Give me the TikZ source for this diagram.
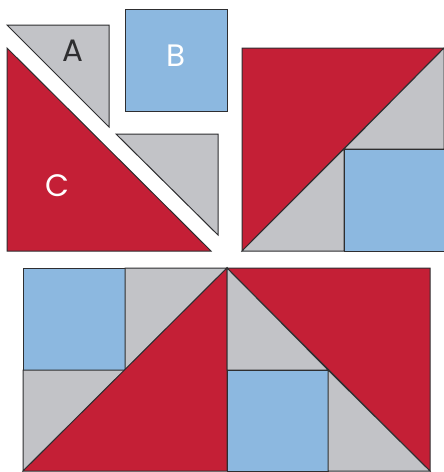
\documentclass[tikz,border=0pt]{standalone}
\usepackage{fontspec}
\setmainfont{Poppins}
\definecolor{qred}{HTML}{C41F36}
\definecolor{qblue}{HTML}{8CB8E0}
\definecolor{qgray}{HTML}{C2C3C7}
\definecolor{qline}{HTML}{2E2E30}
\begin{document}
\begin{tikzpicture}[x=1pt,y=-1pt,
  piece/.style={draw=qline,line width=1pt,line join=miter},
  redp/.style={piece,fill=qred},
  bluep/.style={piece,fill=qblue},
  grayp/.style={piece,fill=qgray},
  lbl/.style={font=\fontsize{31}{32}\selectfont,inner sep=0pt}]
\useasboundingbox (0,0) rectangle (444,472);
% pieces
\draw[grayp] (7,25) -- (109,25) -- (109,127) -- cycle;
\draw[bluep] (125,9) rectangle (227,111);
\draw[redp] (7,48) -- (7,251) -- (211,251) -- cycle;
\draw[grayp] (116,134) -- (218,134) -- (218,235) -- cycle;
% right block
\draw[redp] (242,48) -- (444,48) -- (242,251) -- cycle;
\draw[grayp] (242,251) -- (344,149) -- (344,251) -- cycle;
\draw[grayp] (344,149) -- (444,48) -- (444,149) -- cycle;
\draw[bluep] (344,149) rectangle (444,251);
% bottom block
\draw[bluep] (23,268) rectangle (125,370);
\draw[grayp] (125,268) -- (227,268) -- (125,370) -- cycle;
\draw[grayp] (23,370) -- (125,370) -- (23,471) -- cycle;
\draw[redp] (23,471) -- (227,268) -- (227,471) -- cycle;
\draw[redp] (227,268) -- (430,268) -- (430,471) -- cycle;
\draw[grayp] (227,268) -- (227,370) -- (328,370) -- cycle;
\draw[bluep] (227,370) rectangle (328,471);
\draw[grayp] (328,370) -- (328,471) -- (430,471) -- cycle;
% labels
\node[lbl,text=qline] (la) at (73,51) {A};
\node[lbl,text=white] (lb) at (176,56) {B};
\node[lbl,text=white] (lc) at (57,186) {C};
\end{tikzpicture}
\end{document}
